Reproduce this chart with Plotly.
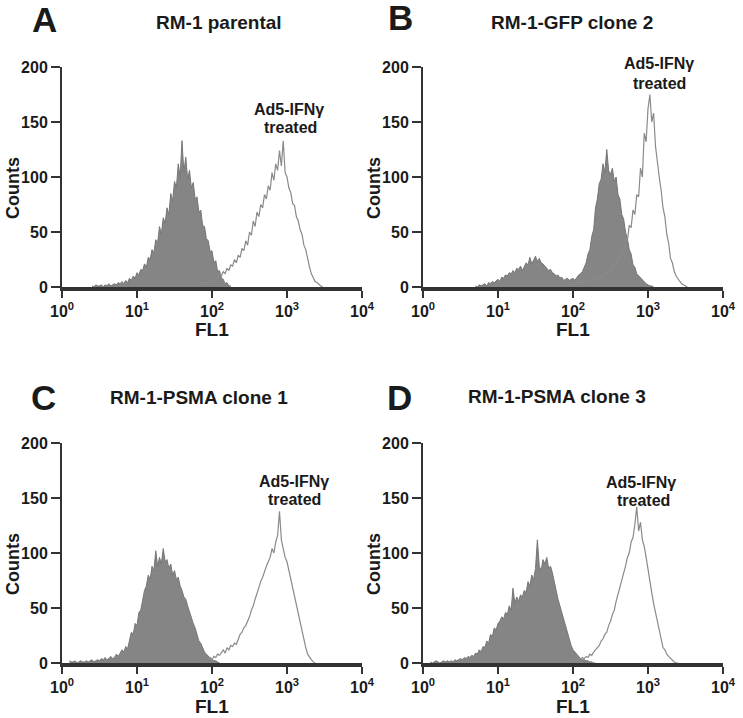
import plotly.graph_objects as go

# FL1 histograms, counts per channel; channels on a log10 grid
channel_step = 0.025

# panel A: RM-1 parental
a_ctrl_start = 0.40
a_ctrl = [1, 0, 2, 1, 1, 2, 0, 2, 1, 3,
          1, 2, 3, 2, 4, 3, 5, 3, 6, 4,
          8, 6, 10, 8, 13, 11, 16, 15, 21, 18,
          27, 25, 34, 31, 43, 40, 55, 48, 63, 58,
          72, 66, 85, 78, 96, 90, 112, 100, 133, 104,
          118, 98, 106, 90, 95, 80, 82, 68, 70, 56,
          55, 44, 42, 32, 33, 22, 24, 14, 15, 8,
          7, 3, 4, 1, 1]
a_ifn_start = 1.80
a_ifn = [2, 1, 3, 2, 4, 3, 5, 4, 7, 5,
         9, 7, 12, 10, 14, 12, 17, 15, 20, 19,
         25, 22, 29, 27, 35, 33, 42, 38, 50, 47,
         60, 55, 68, 64, 75, 72, 84, 80, 92, 88,
         104, 97, 112, 106, 124, 110, 133, 104, 100, 90,
         86, 76, 74, 64, 60, 52, 48, 38, 34, 24,
         18, 12, 9, 5, 4, 2, 1, 0]

# panel B: RM-1-GFP clone 2
b_ctrl_start = 0.70
b_ctrl = [1, 0, 2, 1, 2, 3, 1, 4, 3, 5,
          4, 6, 7, 5, 9, 8, 11, 10, 13, 12,
          15, 13, 17, 16, 19, 15, 18, 22, 20, 27,
          21, 24, 28, 23, 26, 22, 21, 19, 17, 15,
          16, 13, 12, 10, 11, 8, 9, 6, 7, 8,
          6, 7, 8, 6, 9, 11, 12, 14, 18, 22,
          30, 34, 46, 52, 72, 80, 94, 98, 112, 104,
          125, 106, 102, 108, 96, 100, 84, 80, 66, 62,
          50, 44, 34, 30, 20, 18, 12, 10, 8, 6,
          4, 3, 2, 1, 1, 0]
b_ifn_start = 1.90
b_ifn = [2, 1, 3, 2, 3, 4, 2, 3, 5, 4,
         5, 4, 6, 5, 7, 6, 8, 7, 10, 9,
         11, 10, 13, 12, 16, 15, 20, 19, 26, 24,
         34, 32, 44, 42, 56, 54, 70, 66, 84, 82,
         108, 100, 140, 132, 162, 175, 150, 158, 128, 112,
         100, 88, 72, 64, 48, 40, 26, 22, 14, 10,
         7, 5, 3, 2, 1, 0]

# panel C: RM-1-PSMA clone 1
c_ctrl_start = 0.10
c_ctrl = [2, 1, 1, 2, 0, 1, 2, 1, 1, 2,
          1, 2, 3, 1, 2, 3, 2, 4, 3, 5,
          3, 4, 6, 4, 5, 8, 6, 9, 12, 10,
          15, 13, 20, 28, 26, 36, 34, 46, 48, 58,
          66, 70, 80, 76, 88, 84, 102, 88, 96, 90,
          104, 92, 94, 86, 90, 80, 84, 76, 78, 70,
          66, 60, 58, 52, 46, 42, 36, 32, 26, 20,
          18, 14, 10, 8, 6, 4, 3, 2, 2, 1,
          0]
c_ifn_start = 1.90
c_ifn = [3, 2, 4, 5, 3, 6, 5, 8, 7, 10,
         12, 9, 14, 12, 16, 15, 18, 17, 22, 26,
         28, 32, 34, 38, 42, 48, 52, 58, 64, 70,
         74, 78, 84, 88, 92, 96, 104, 100, 110, 116,
         138, 112, 104, 96, 92, 84, 76, 68, 60, 52,
         44, 36, 28, 20, 14, 8, 5, 3, 1, 0]

# panel D: RM-1-PSMA clone 3
d_ctrl_start = 0.10
d_ctrl = [1, 0, 1, 2, 1, 0, 1, 2, 1, 2,
          1, 2, 1, 3, 2, 3, 4, 3, 5, 4,
          6, 5, 7, 6, 9, 8, 12, 10, 15, 14,
          20, 18, 26, 24, 32, 30, 36, 38, 42, 40,
          46, 44, 52, 48, 68, 54, 60, 56, 62, 60,
          66, 64, 74, 70, 80, 76, 86, 112, 88, 84,
          94, 90, 96, 86, 88, 82, 72, 66, 58, 52,
          46, 38, 32, 26, 20, 16, 12, 10, 7, 5,
          4, 3, 3, 2, 2, 1, 1, 0, 0]
d_ifn_start = 1.90
d_ifn = [2, 1, 3, 2, 4, 3, 2, 4, 3, 5,
         4, 6, 5, 8, 7, 10, 12, 14, 16, 20,
         22, 26, 28, 34, 38, 44, 48, 56, 62, 70,
         76, 82, 88, 96, 100, 110, 114, 126, 142, 120,
         128, 112, 106, 96, 84, 72, 64, 54, 46, 36,
         30, 22, 14, 12, 8, 6, 4, 2, 1, 0,
         0]

panel_letters = ["A", "B", "C", "D"]
panel_titles = ["RM-1 parental", "RM-1-GFP clone 2", "RM-1-PSMA clone 1", "RM-1-PSMA clone 3"]
treated_label = ["Ad5-IFNγ", "treated"]
x_tick_vals = [1, 10, 100, 1000, 10000]
x_tick_text = ["10<sup>0</sup>", "10<sup>1</sup>", "10<sup>2</sup>", "10<sup>3</sup>", "10<sup>4</sup>"]
y_tick_vals = [0, 50, 100, 150, 200]

W, H = 743, 718
def px(x):
    return x / W
def py(y):
    return 1 - y / H

# plot boxes in pixels: left, right, top(200), bottom(0)
boxes = [(62, 362, 67, 287), (423, 723, 67, 287),
         (62, 362, 443, 663), (423, 723, 443, 663)]
title_pos = [(219, 23), (572, 23), (199, 397), (557, 396)]
letter_pos = [(44, 19), (400, 18), (43, 397), (399, 397)]
label_pos = [((289, 109), (290, 128)), ((659, 64), (659, 83)),
             ((294, 481), (294, 499)), ((641, 482), (643, 500))]

series = [(a_ctrl_start, a_ctrl, a_ifn_start, a_ifn),
          (b_ctrl_start, b_ctrl, b_ifn_start, b_ifn),
          (c_ctrl_start, c_ctrl, c_ifn_start, c_ifn),
          (d_ctrl_start, d_ctrl, d_ifn_start, d_ifn)]

FONT = "Liberation Sans, Arial, sans-serif"
INK = "#1a1a1a"

fig = go.Figure()
annotations = []
layout = {}


def note(text, x, y, size, angle=0):
    annotations.append(dict(text=text, x=px(x), y=py(y), xref="paper", yref="paper",
                            xanchor="center", yanchor="middle", textangle=angle,
                            showarrow=False, font=dict(family=FONT, size=size, color=INK)))


for i, (cs, cv, ts, tv) in enumerate(series):
    n = "" if i == 0 else str(i + 1)
    xa, ya = "x" + n, "y" + n
    cx = [10 ** (cs + channel_step * k) for k in range(len(cv))]
    tx = [10 ** (ts + channel_step * k) for k in range(len(tv))]
    fig.add_trace(go.Scatter(x=cx, y=cv, xaxis=xa, yaxis=ya, mode="lines",
                             fill="tozeroy", fillcolor="#858585",
                             line=dict(color="#767676", width=1), showlegend=False))
    fig.add_trace(go.Scatter(x=tx, y=tv, xaxis=xa, yaxis=ya, mode="lines",
                             line=dict(color="#8a8a8a", width=1.2), showlegend=False))

    l, r, t, b = boxes[i]
    layout["xaxis" + n] = dict(
        type="log", range=[0, 4], domain=[px(l), px(r)], anchor=ya, automargin=False,
        showline=True, linewidth=3.5, linecolor="#333333",
        ticks="outside", ticklen=7, tickwidth=1.5, tickcolor="#333333",
        tickvals=x_tick_vals, ticktext=["<b>%s</b>" % s for s in x_tick_text],
        tickfont=dict(family=FONT, size=16, color=INK),
        showgrid=False, zeroline=False, fixedrange=True)
    layout["yaxis" + n] = dict(
        range=[0, 200], domain=[py(b), py(t)], anchor=xa, automargin=False,
        showline=True, linewidth=2, linecolor="#333333",
        ticks="outside", ticklen=9, tickwidth=1.5, tickcolor="#333333",
        tickvals=y_tick_vals, ticktext=["<b>%d</b>" % v for v in y_tick_vals],
        tickfont=dict(family=FONT, size=16, color=INK),
        showgrid=False, zeroline=False, fixedrange=True)

    note("<b>%s</b>" % panel_letters[i], letter_pos[i][0], letter_pos[i][1], 35)
    note("<b>%s</b>" % panel_titles[i], title_pos[i][0], title_pos[i][1], 19)
    for line_txt, (lx, ly) in zip(treated_label, label_pos[i]):
        note("<b>%s</b>" % line_txt, lx, ly, 16)
    note("<b>Counts</b>", l - 49, (t + b) / 2 + 11, 18, angle=-90)
    note("<b>FL1</b>", (l + r) / 2, b + 43, 19)

fig.update_layout(width=W, height=H, margin=dict(l=0, r=0, t=0, b=0),
                  paper_bgcolor="white", plot_bgcolor="white",
                  annotations=annotations, **layout)

# drop the page's default body margin so the figure sits at the window's corner
fig.write_html("out.html", config={"displayModeBar": False},
               post_script="document.body.style.margin = '0px';")
